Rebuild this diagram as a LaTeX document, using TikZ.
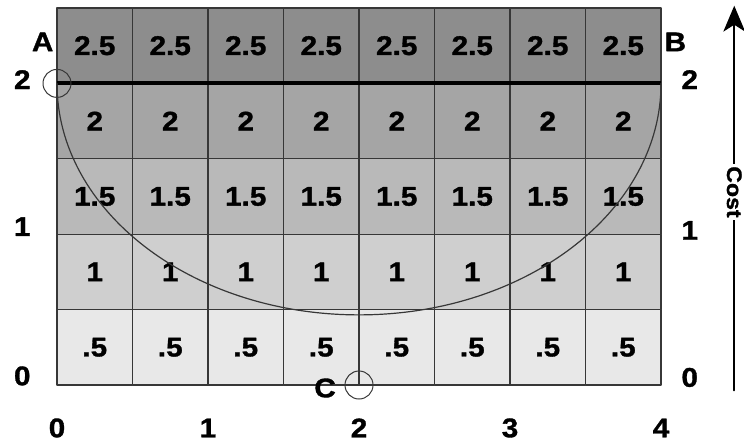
\documentclass[tikz,border=0pt]{standalone}
\usepackage{fontspec}
\setmainfont[FakeStretch=1.1, BoldFeatures={FakeBold=1.2}]{Liberation Sans}
\usetikzlibrary{arrows.meta}

\definecolor{gridline}{RGB}{55,55,55}
\definecolor{rowa}{RGB}{232,232,232}
\definecolor{rowb}{RGB}{207,207,207}
\definecolor{rowc}{RGB}{185,185,185}
\definecolor{rowd}{RGB}{165,165,165}
\definecolor{rowe}{RGB}{141,141,141}

\tikzset{
	val/.style={font=\bfseries\fontsize{27}{30}\selectfont, inner sep=0pt},
	ring/.style={draw=gridline, line width=1pt},
}

\begin{document}
\begin{tikzpicture}[x=75.5pt, y=75.4pt, font=\bfseries\fontsize{27}{30}\selectfont, line join=round, line cap=round, >=stealth]
		\useasboundingbox (-0.755,-0.782) rectangle (9.099,5.106);
		% cost cells
		\foreach \v/\c [count=\r from 0] in {.5/rowa, 1/rowb, 1.5/rowc, 2/rowd, 2.5/rowe}
			\foreach \i in {0,...,7} {
				\filldraw[fill=\c, draw=gridline, line width=1.2pt] (\i,\r) rectangle ++(1,1);
				\node[val] (v\r\i) at (\i+0.5,\r+0.5) {\v};
			}
		\coordinate (ptA) at (0,4);
		\coordinate (ptB) at (8,4);
		\coordinate (ptC) at (4,0);
		\draw[line width=4pt, line cap=butt] (ptA) -- (ptB);
		\draw[draw=gridline, line width=1.2pt] (ptA) arc[start angle=180, end angle=360, x radius=4, y radius=3.07];
		\draw[ring] (ptA) circle (14pt);
		\draw[ring] (ptC) circle (14pt);
		\node[val] (labA) at (-0.19,4.55) {A};
		\node[val] (labB) at (8.19,4.55) {B};
		\node[val] (labC) at (3.55,-0.04) {C};
		% axes
		\foreach \k in {0,...,4}
			\node[val] (x\k) at (2*\k,-0.57) {\k};
		\node[val] (yl0) at (-0.46,0.12) {0};
		\node[val] (yl1) at (-0.46,2.1) {1};
		\node[val] (yl2) at (-0.46,4.05) {2};
		\node[val] (yr0) at (8.38,0.1) {0};
		\node[val] (yr1) at (8.38,2.05) {1};
		\node[val] (yr2) at (8.38,4.05) {2};
		\coordinate (cLo) at (8.97,-0.07);
		\coordinate (cHi) at (8.97,5.03);
		\draw[line width=2.2pt] (cLo) -- ([yshift=-14pt]cHi);
		\fill (cHi) -- ++(-11pt,-26pt) -- ++(11pt,7pt) -- ++(11pt,-7pt) -- cycle;
		\node[val, font=\bfseries\fontsize{21}{24}\selectfont, fill=white, rotate=-90, inner sep=2pt] (cost) at (8.97,2.56) {Cost};
	\end{tikzpicture}
\end{document}
